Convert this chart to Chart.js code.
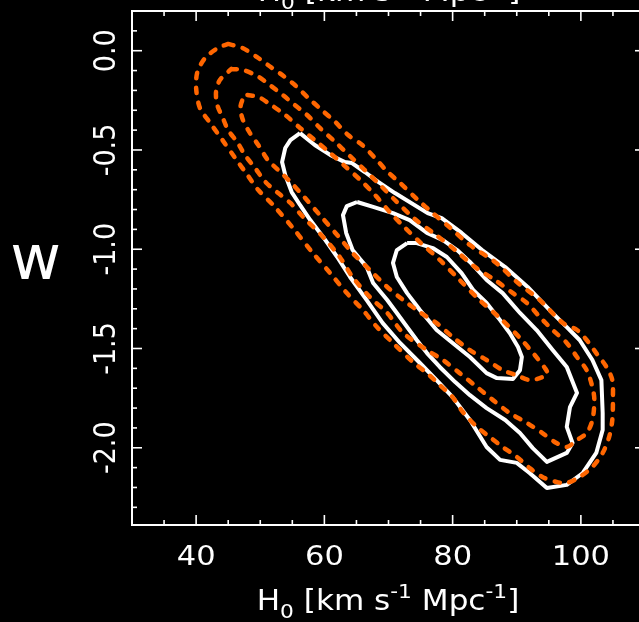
<!DOCTYPE html>
<html>
<head>
<meta charset="utf-8">
<script src="https://cdn.jsdelivr.net/npm/chart.js@4.4.0/dist/chart.umd.min.js"></script>
<style>
  html, body { margin: 0; padding: 0; background: #000; overflow: hidden; }
  #wrap { position: absolute; left: 0; top: 0; width: 660px; height: 622px; }
</style>
</head>
<body>
<div id="wrap"><canvas id="contours" width="660" height="622"></canvas></div>
<script>
// Confidence contours in the H0 - w plane: dashed orange and solid white sets
const xRange = [30, 110];
const yRange = [-2.389, 0.2];
const xTicksMajor = [40, 60, 80, 100];
const xTicksMinor = [35, 45, 50, 55, 65, 70, 75, 85, 90, 95, 105];
const xTickLabels = ['40', '60', '80', '100'];
const yTicksMajor = [0.0, -0.5, -1.0, -1.5, -2.0];
const yTicksMinor = [0.1, -0.1, -0.2, -0.3, -0.4, -0.6, -0.7, -0.8, -0.9, -1.1, -1.2, -1.3, -1.4,
                     -1.6, -1.7, -1.8, -1.9, -2.1, -2.2, -2.3];
const yTickLabels = ['0.0', '-0.5', '-1.0', '-1.5', '-2.0'];

// [H0, w] vertices of each closed contour
const orangeOuter = [[45.0,0.034],[47.2,0.014],[49.5,-0.032],[51.2,-0.072],[53.4,-0.122],[55.4,-0.173],[57.5,-0.238],
  [59.6,-0.299],[61.7,-0.359],[63.7,-0.425],[65.9,-0.475],[67.9,-0.541],[69.9,-0.611],[71.8,-0.666],[74.6,-0.752],
  [76.9,-0.818],[79.3,-0.883],[82.7,-0.979],[86.6,-1.064],[90.2,-1.170],[93.6,-1.256],[97.2,-1.372],[99.4,-1.407],
  [100.9,-1.457],[102.4,-1.523],[104.0,-1.593],[104.9,-1.659],[105.0,-1.745],[104.9,-1.860],[104.4,-1.946],
  [103.4,-2.026],[101.8,-2.096],[99.8,-2.147],[97.8,-2.177],[96.2,-2.172],[94.0,-2.147],[92.0,-2.102],[90.0,-2.046],
  [87.8,-1.996],[85.8,-1.946],[83.8,-1.895],[81.6,-1.820],[80.0,-1.745],[78.0,-1.684],[76.0,-1.624],[73.8,-1.568],
  [70.7,-1.472],[68.2,-1.392],[66.0,-1.306],[63.5,-1.221],[60.9,-1.120],[58.2,-1.019],[55.1,-0.893],[52.0,-0.777],
  [49.7,-0.702],[48.0,-0.626],[46.1,-0.541],[44.1,-0.450],[42.2,-0.364],[40.6,-0.289],[40.0,-0.188],[40.2,-0.107],
  [41.4,-0.037],[43.4,0.014],[45.0,0.034]];
const orangeMid = [[45.5,-0.092],[47.3,-0.097],[49.5,-0.127],[51.5,-0.173],[53.5,-0.223],[55.4,-0.274],[57.3,-0.324],
  [59.3,-0.389],[61.7,-0.460],[64.0,-0.531],[66.3,-0.601],[68.7,-0.677],[71.0,-0.752],[74.1,-0.848],[77.2,-0.923],
  [80.4,-1.004],[83.5,-1.090],[86.6,-1.155],[89.4,-1.221],[91.6,-1.271],[93.6,-1.341],[95.6,-1.407],[97.8,-1.472],
  [99.4,-1.543],[100.9,-1.609],[101.8,-1.694],[102.1,-1.760],[101.8,-1.860],[100.9,-1.926],[99.4,-1.961],
  [97.8,-1.996],[96.2,-1.976],[94.0,-1.926],[91.6,-1.875],[88.9,-1.825],[86.3,-1.760],[83.8,-1.694],[81.1,-1.624],
  [78.5,-1.558],[76.0,-1.508],[72.3,-1.422],[69.8,-1.321],[67.1,-1.241],[64.4,-1.140],[62.4,-1.039],[59.8,-0.938],
  [56.7,-0.838],[54.7,-0.767],[52.8,-0.717],[50.8,-0.661],[49.2,-0.591],[47.6,-0.525],[46.4,-0.460],[45.0,-0.400],
  [44.1,-0.334],[43.3,-0.274],[43.1,-0.208],[43.7,-0.148],[45.5,-0.092]];
const orangeInner = [[48.0,-0.223],[49.7,-0.233],[51.5,-0.269],[53.9,-0.324],[56.2,-0.389],[58.5,-0.450],[60.9,-0.515],
  [63.2,-0.581],[65.6,-0.651],[67.9,-0.727],[70.2,-0.813],[72.6,-0.893],[74.9,-0.964],[78.0,-1.054],[81.1,-1.155],
  [84.2,-1.256],[87.4,-1.347],[90.5,-1.447],[92.8,-1.533],[94.4,-1.599],[94.8,-1.629],[93.6,-1.649],[92.0,-1.659],
  [89.9,-1.634],[87.8,-1.609],[85.3,-1.558],[82.7,-1.508],[80.0,-1.442],[77.5,-1.372],[74.9,-1.317],[72.3,-1.256],
  [69.8,-1.190],[67.1,-1.105],[64.4,-1.019],[62.0,-0.928],[59.3,-0.828],[57.0,-0.742],[54.7,-0.661],[52.8,-0.601],
  [51.2,-0.551],[49.7,-0.475],[48.4,-0.415],[47.3,-0.349],[46.9,-0.289],[47.3,-0.243],[48.0,-0.223]];
const whiteOuter = [[56.2,-0.415],[58.5,-0.475],[60.9,-0.525],[63.2,-0.561],[64.3,-0.566],[66.3,-0.611],[68.4,-0.661],
  [71.0,-0.717],[76.1,-0.818],[78.3,-0.843],[81.4,-0.918],[84.6,-1.004],[88.2,-1.090],[91.7,-1.190],[95.1,-1.306],
  [97.8,-1.392],[99.8,-1.457],[101.8,-1.558],[103.2,-1.659],[103.4,-1.825],[103.4,-1.910],[102.4,-2.026],
  [100.3,-2.127],[97.8,-2.187],[94.7,-2.203],[92.0,-2.127],[90.0,-2.076],[87.4,-2.061],[85.3,-1.996],[82.7,-1.860],
  [80.0,-1.745],[77.5,-1.659],[74.9,-1.573],[71.8,-1.472],[69.1,-1.372],[66.6,-1.256],[64.0,-1.140],[62.0,-1.039],
  [59.8,-0.938],[57.8,-0.853],[56.2,-0.777],[54.9,-0.712],[53.9,-0.626],[53.4,-0.561],[53.9,-0.490],[54.7,-0.450],
  [56.2,-0.415]];
const whiteMid = [[65.1,-0.762],[67.6,-0.787],[70.7,-0.818],[73.3,-0.853],[76.0,-0.918],[78.5,-0.954],[80.7,-1.004],
  [82.7,-1.064],[85.3,-1.155],[87.8,-1.221],[90.5,-1.321],[93.1,-1.407],[95.6,-1.508],[97.8,-1.593],[99.4,-1.724],
  [98.3,-1.795],[97.8,-1.895],[98.7,-1.976],[97.8,-2.026],[94.7,-2.071],[92.5,-2.002],[90.5,-1.926],[88.2,-1.860],
  [85.3,-1.800],[82.7,-1.735],[80.4,-1.669],[78.0,-1.593],[76.0,-1.523],[74.4,-1.457],[72.9,-1.392],[71.3,-1.321],
  [69.8,-1.256],[67.6,-1.170],[66.6,-1.090],[64.4,-1.004],[63.4,-0.918],[62.9,-0.828],[63.5,-0.783],[65.1,-0.762]];
const whiteInner = [[72.9,-0.969],[74.4,-0.969],[76.9,-0.994],[79.1,-1.039],[81.4,-1.120],[83.2,-1.205],[85.3,-1.271],
  [87.4,-1.357],[88.9,-1.422],[90.2,-1.492],[90.8,-1.543],[90.5,-1.609],[89.4,-1.654],[86.9,-1.649],[85.3,-1.624],
  [82.7,-1.543],[80.0,-1.472],[77.5,-1.407],[74.9,-1.306],[72.9,-1.221],[71.3,-1.140],[70.7,-1.069],[71.3,-1.004],
  [72.9,-0.969]];

// axis title pieces: [text, baseline shift, size factor]
const axisTitle = [['H', 0, 1], ['0', 8, 0.7], [' [km s', 0, 1], ['-1', -12, 0.7], [' Mpc', 0, 1], ['-1', -12, 0.7], [']', 0, 1]];
const yName = 'w';

const ORANGE = '#ff6600';
const FONT = '"DejaVu Sans", sans-serif';
const STRETCH = 1.13;

function contour(points, color, dashed) {
  return {
    data: points.map(p => ({ x: p[0], y: p[1] })),
    showLine: true,
    pointRadius: 0,
    borderColor: color,
    borderWidth: dashed ? 4.5 : 4,
    borderDash: dashed ? [5.5, 9.5] : [],
    borderCapStyle: dashed ? 'round' : 'butt',
    borderJoinStyle: 'round',
    tension: dashed ? 0.3 : 0,
    fill: false
  };
}

function wideText(ctx, text, x, y, size, align) {
  ctx.save();
  ctx.translate(x, y);
  ctx.scale(STRETCH, 1);
  ctx.font = size + 'px ' + FONT;
  ctx.textAlign = align;
  ctx.textBaseline = 'alphabetic';
  ctx.fillText(text, 0, 0);
  ctx.restore();
}

function drawTitle(ctx, cx, baseline, size) {
  let total = 0;
  axisTitle.forEach(([t, , f]) => {
    ctx.font = (size * f) + 'px ' + FONT;
    total += ctx.measureText(t).width * STRETCH;
  });
  let x = cx - total / 2;
  axisTitle.forEach(([t, dy, f]) => {
    wideText(ctx, t, x, baseline + dy, size * f, 'left');
    ctx.font = (size * f) + 'px ' + FONT;
    x += ctx.measureText(t).width * STRETCH;
  });
}

const blackBackground = {
  id: 'blackBackground',
  beforeDraw(chart) {
    const ctx = chart.ctx;
    ctx.save();
    ctx.fillStyle = '#000';
    ctx.fillRect(0, 0, chart.width, chart.height);
    ctx.restore();
  }
};

// inward ticks on all four sides
const tickMarks = {
  id: 'tickMarks',
  afterDraw(chart) {
    const { ctx, chartArea: a, scales } = chart;
    ctx.save();
    ctx.strokeStyle = '#fff';
    ctx.lineWidth = 1.6;
    const seg = (x1, y1, x2, y2) => { ctx.beginPath(); ctx.moveTo(x1, y1); ctx.lineTo(x2, y2); ctx.stroke(); };
    [[xTicksMajor, 10], [xTicksMinor, 5]].forEach(([vals, len]) => vals.forEach(v => {
      const px = scales.x.getPixelForValue(v);
      seg(px, a.bottom, px, a.bottom - len);
      seg(px, a.top, px, a.top + len);
    }));
    [[yTicksMajor, 10], [yTicksMinor, 5]].forEach(([vals, len]) => vals.forEach(v => {
      const py = scales.y.getPixelForValue(v);
      seg(a.left, py, a.left + len, py);
      seg(a.right, py, a.right - len, py);
    }));
    ctx.restore();
  }
};

const axisText = {
  id: 'axisText',
  afterDraw(chart) {
    const { ctx, scales } = chart;
    ctx.save();
    ctx.fillStyle = '#fff';
    xTicksMajor.forEach((v, i) => {
      wideText(ctx, xTickLabels[i], scales.x.getPixelForValue(v), 565, 27, 'center');
    });
    yTicksMajor.forEach((v, i) => {
      const py = scales.y.getPixelForValue(v);
      ctx.save();
      ctx.translate(115, py);
      ctx.rotate(-Math.PI / 2);
      ctx.scale(1, STRETCH);
      ctx.font = '27px ' + FONT;
      ctx.textAlign = 'center';
      ctx.textBaseline = 'alphabetic';
      ctx.fillText(yTickLabels[i], 0, 0);
      ctx.restore();
    });
    drawTitle(ctx, 388, 610, 27.5);
    drawTitle(ctx, 389, 1, 27.5);
    ctx.font = '62px ' + FONT;
    ctx.textAlign = 'center';
    ctx.textBaseline = 'alphabetic';
    ctx.fillText(yName, 35.5, 279);
    ctx.restore();
  }
};

const frameAxis = (pos, size) => ({
  type: 'linear',
  position: pos,
  min: (pos === 'bottom' || pos === 'top') ? xRange[0] : yRange[0],
  max: (pos === 'bottom' || pos === 'top') ? xRange[1] : yRange[1],
  ticks: { display: false },
  grid: { display: true, drawOnChartArea: false, drawTicks: false },
  border: { display: true, color: '#fff', width: 2 },
  afterFit: s => { if (pos === 'bottom' || pos === 'top') s.height = size; else s.width = size; }
});

const ctx = document.getElementById('contours').getContext('2d');
new Chart(ctx, {
  type: 'scatter',
  data: {
    datasets: [
      contour(orangeOuter, ORANGE, true),
      contour(orangeMid, ORANGE, true),
      contour(orangeInner, ORANGE, true),
      contour(whiteOuter, '#ffffff', false),
      contour(whiteMid, '#ffffff', false),
      contour(whiteInner, '#ffffff', false)
    ]
  },
  options: {
    responsive: false,
    animation: false,
    events: [],
    layout: { padding: 0 },
    plugins: { legend: { display: false }, tooltip: { enabled: false } },
    scales: {
      x: frameAxis('bottom', 97),
      xTop: frameAxis('top', 11),
      y: frameAxis('left', 132),
      yRight: frameAxis('right', 15)
    }
  },
  plugins: [blackBackground, tickMarks, axisText]
});
</script>
</body>
</html>
